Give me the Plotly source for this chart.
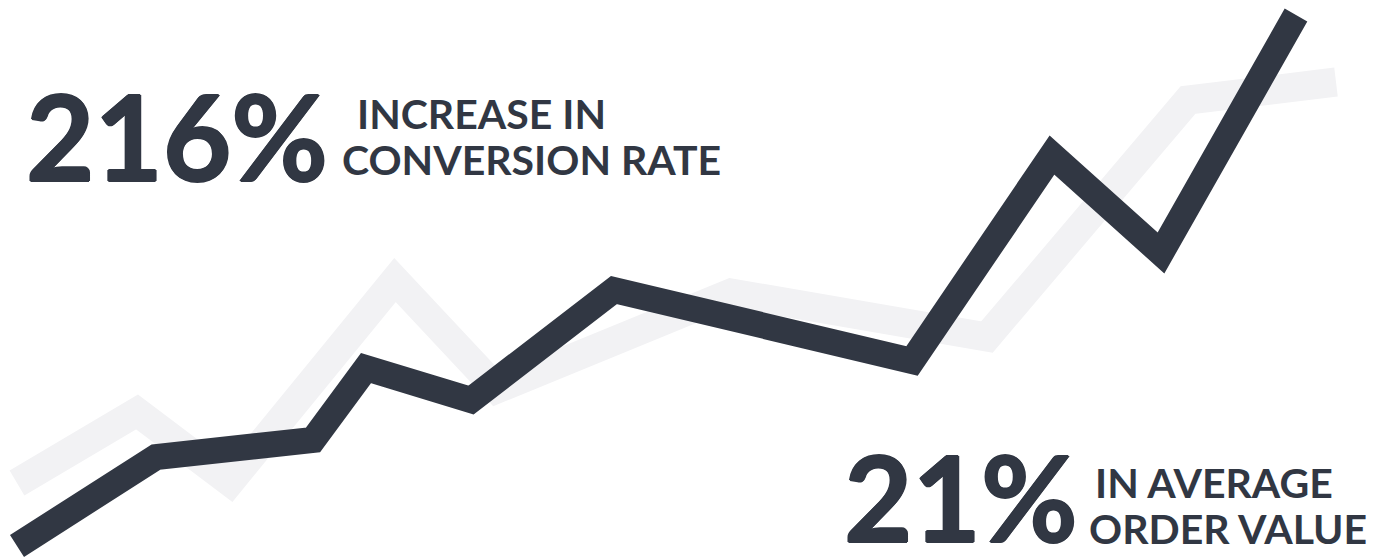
import plotly.graph_objects as go

# Canvas frame (x to the right, y upward)
W, H = 1373, 559

dark_x = [17, 156, 313, 366, 471, 614, 912, 1052, 1161, 1296]
dark_y = [13, 102, 119, 191, 159, 269, 198, 404, 306, 544]

gray_x = [17, 137, 230, 395, 497, 731, 987, 1188, 1336]
gray_y = [76, 147, 77, 279, 170, 266, 222, 459, 477]

big_labels = ["216%", "21%"]
small_labels = [["INCREASE IN", "CONVERSION RATE"], ["IN AVERAGE", "ORDER VALUE"]]

DARK = "#313743"
LIGHT = "#f2f2f4"
FONT = "Lato"
FATTEN = ("1px 0px 0px #313743, -1px 0px 0px #313743, "
          "0px 1px 0px #313743, 0px -1px 0px #313743")

fig = go.Figure()
fig.add_trace(go.Scatter(x=gray_x, y=gray_y, mode="lines",
                         line=dict(color=LIGHT, width=29), hoverinfo="skip"))
fig.add_trace(go.Scatter(x=dark_x, y=dark_y, mode="lines",
                         line=dict(color=DARK, width=26), hoverinfo="skip"))

def ann(text, x, y, size, shadow="none"):
    fig.add_annotation(text=text, x=x, y=y, xref="x", yref="y",
                       xanchor="left", yanchor="middle", showarrow=False,
                       font=dict(family=FONT, size=size, color=DARK,
                                 weight=700, shadow=shadow))

ann(big_labels[0], 24, 424, 118, FATTEN)
ann(small_labels[0][0], 355, 446, 41)
ann(small_labels[0][1], 340, 400, 41)
ann(big_labels[1], 842, 63, 118, FATTEN)
ann(small_labels[1][0], 1093, 77, 41)
ann(small_labels[1][1], 1087, 31, 41)

fig.update_layout(
    width=W, height=H,
    margin=dict(l=0, r=0, t=0, b=0),
    paper_bgcolor="white", plot_bgcolor="white",
    showlegend=False,
    xaxis=dict(range=[0, W], visible=False, fixedrange=True),
    yaxis=dict(range=[0, H], visible=False, fixedrange=True),
)

fig.write_html("out.html", config={"displayModeBar": False})
